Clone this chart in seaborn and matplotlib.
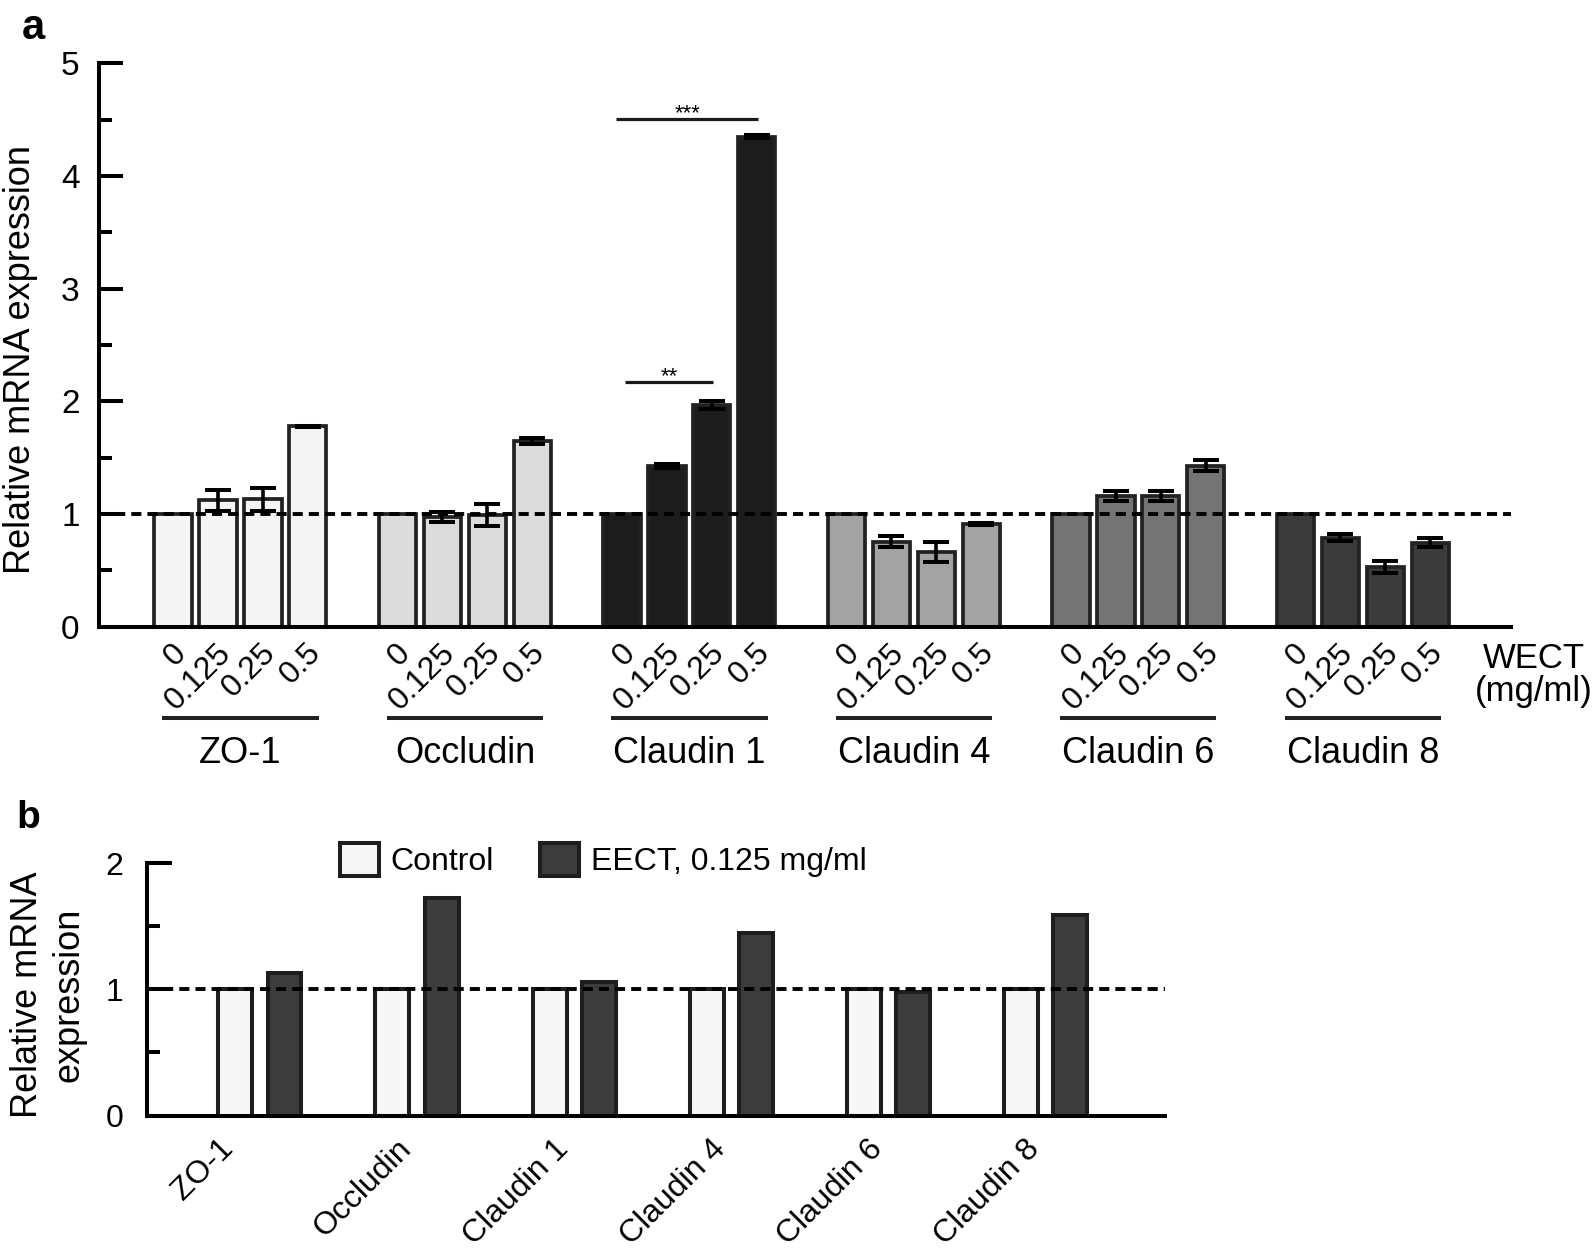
import matplotlib
matplotlib.use("Agg")
import matplotlib.pyplot as plt
from matplotlib.patches import Patch
from matplotlib.transforms import ScaledTranslation
import numpy as np
import pandas as pd
import seaborn as sns

sns.set_theme(style="ticks")
plt.rcParams["font.family"] = ["Liberation Sans", "DejaVu Sans"]
for k in ["text.color", "axes.labelcolor", "xtick.color", "ytick.color", "axes.edgecolor"]:
    plt.rcParams[k] = "black"

genes = ["ZO-1", "Occludin", "Claudin 1", "Claudin 4", "Claudin 6", "Claudin 8"]
doses = ["0", "0.125", "0.25", "0.5"]

# panel a: relative mRNA expression per WECT dose (mean and error)
zo1 = [1.0, 1.12, 1.13, 1.78]
occludin = [1.0, 0.97, 0.99, 1.65]
claudin1 = [1.0, 1.425, 1.965, 4.35]
claudin4 = [1.0, 0.755, 0.665, 0.91]
claudin6 = [1.0, 1.16, 1.16, 1.43]
claudin8 = [1.0, 0.79, 0.53, 0.745]

zo1_err = [0.0, 0.095, 0.10, 0.005]
occludin_err = [0.0, 0.045, 0.10, 0.025]
claudin1_err = [0.0, 0.02, 0.035, 0.01]
claudin4_err = [0.0, 0.05, 0.09, 0.01]
claudin6_err = [0.0, 0.045, 0.045, 0.05]
claudin8_err = [0.0, 0.03, 0.05, 0.04]

gene_colors = ["#f5f5f5", "#dcdcdc", "#1c1c1c", "#a3a3a3", "#747474", "#3b3b3b"]

# panel b: control vs EECT 0.125 mg/ml
b_groups = ["Control", "EECT, 0.125 mg/ml"]
b_control = [1.0, 1.0, 1.0, 1.0, 1.0, 1.0]
b_eect = [1.133, 1.724, 1.061, 1.444, 0.98, 1.588]
b_colors = ["#f7f7f7", "#3c3c3c"]

W, H = 1594, 1257

rows = []
all_vals = [zo1, occludin, claudin1, claudin4, claudin6, claudin8]
all_errs = [zo1_err, occludin_err, claudin1_err, claudin4_err, claudin6_err, claudin8_err]
for g, (vals, errs) in enumerate(zip(all_vals, all_errs)):
    for j, (v, e) in enumerate(zip(vals, errs)):
        rows.append({"pos": g * 5 + j, "gene": genes[g], "dose": doses[j], "value": v, "err": e})
df_a = pd.DataFrame(rows)

fig = plt.figure(figsize=(W / 100, H / 100), dpi=100)

# ---------------- panel a ----------------
ax = fig.add_axes([99 / W, 1 - 626.7 / H, 1412 / W, 563.4 / H])
sns.barplot(data=df_a, x="pos", y="value", hue="gene", hue_order=genes,
            palette=dict(zip(genes, gene_colors)), native_scale=True, dodge=False,
            width=0.83, errorbar=None, edgecolor="#222222", linewidth=2.7,
            legend=False, ax=ax)
e = df_a[df_a["err"] > 0]
ax.errorbar(e["pos"], e["value"], yerr=e["err"], fmt="none", ecolor="black",
            elinewidth=2.6, capsize=9.5, capthick=2.9, zorder=4)
ax.axhline(1, color="black", lw=2.8, dashes=(2.6, 1.55), zorder=5)

ax.set_xlim(-1.65, 29.8)
ax.set_ylim(0, 5)
sns.despine(ax=ax)
for s in ["left", "bottom"]:
    ax.spines[s].set_linewidth(2.9)
ax.set_yticks(range(6))
ax.set_yticks(np.arange(0.5, 5, 1), minor=True)
ax.tick_params(axis="y", which="major", direction="in", length=17.3, width=2.9, pad=14, labelsize=24)
ax.tick_params(axis="y", which="minor", direction="in", length=9.4, width=2.9)
ax.set_xticks(df_a["pos"] + 0.42)
ax.set_xticklabels(df_a["dose"], rotation=45, ha="right", fontsize=23)
ax.tick_params(axis="x", which="both", length=0, pad=8)
ax.set_xlabel("")
ax.set_ylabel("Relative mRNA expression", fontsize=26)
ax.yaxis.label.set_verticalalignment("center")
ax.yaxis.set_label_coords(-0.0556, 0.475)

trans = ax.get_xaxis_transform()
for g, name in enumerate(genes):
    ax.plot([g * 5 - 0.24, g * 5 + 3.24], [-0.1626, -0.1626], transform=trans,
            color="#222222", lw=2.9, clip_on=False, solid_capstyle="butt")
    ax.text(g * 5 + 1.5, -0.2425, name, transform=trans, ha="center", va="baseline", fontsize=26)
ax.text(30.3, -0.073, "WECT", transform=trans, ha="center", va="baseline", fontsize=25)
ax.text(30.3, -0.131, "(mg/ml)", transform=trans, ha="center", va="baseline", fontsize=25)

# significance brackets on Claudin 1
for x0, x1, y, stars in [(9.87, 13.03, 4.505, "***"), (10.07, 12.03, 2.17, "**")]:
    ax.plot([x0, x1], [y, y], color="#1a1a1a", lw=2.3, solid_capstyle="butt")
    ax.text((x0 + x1) / 2, y, stars, ha="center", va="baseline", fontsize=16)

# ---------------- panel b ----------------
df_b = pd.DataFrame({"gene": genes * 2,
                     "group": [b_groups[0]] * 6 + [b_groups[1]] * 6,
                     "value": b_control + b_eect})
axb = fig.add_axes([146.7 / W, 1 - 1115.5 / H, 1018.3 / W, 252.2 / H])
sns.barplot(data=df_b, x="gene", y="value", hue="group", hue_order=b_groups,
            palette=b_colors, width=0.626, gap=0.31, errorbar=None,
            edgecolor="#1e1e1e", linewidth=2.9, legend=False, ax=axb)
axb.axhline(1, color="black", lw=2.8, dashes=(2.6, 1.55), zorder=5)
axb.set_xlim(-0.72, 5.758)
axb.set_ylim(0, 2)
sns.despine(ax=axb)
for s in ["left", "bottom"]:
    axb.spines[s].set_linewidth(2.9)
axb.set_yticks([0, 1, 2])
axb.set_yticks([0.5, 1.5], minor=True)
axb.tick_params(axis="y", which="major", direction="in", length=18, width=2.9, pad=17, labelsize=23)
axb.tick_params(axis="y", which="minor", direction="in", length=9.4, width=2.9)
axb.set_xticks(range(len(genes)))
axb.set_xticklabels(genes, rotation=45, ha="right", fontsize=23)
axb.tick_params(axis="x", which="both", length=0, pad=13)
first = axb.get_xticklabels()[0]
first.set_transform(first.get_transform() + ScaledTranslation(-0.2, 0, fig.dpi_scale_trans))
axb.set_xlabel("")
axb.set_ylabel("Relative mRNA\nexpression", fontsize=26, linespacing=1.25)
axb.yaxis.label.set_verticalalignment("center")
axb.yaxis.set_label_coords(-0.0965, 0.478)

handles = [Patch(facecolor=c, edgecolor="#1e1e1e", linewidth=2.9) for c in b_colors]
fig.legend(handles, b_groups, loc="upper left", bbox_to_anchor=(340 / W, 1 - 843 / H),
           ncol=2, frameon=False, fontsize=23, handlelength=1.22, handleheight=1.2,
           handletextpad=0.36, columnspacing=1.45, borderpad=0, borderaxespad=0)

fig.text(22 / W, 1 - 39 / H, "a", fontsize=30, fontweight="bold", va="baseline")
fig.text(16 / W, 1 - 828 / H, "b", fontsize=28, fontweight="bold", va="baseline")

fig.savefig("out.png", dpi=100)
